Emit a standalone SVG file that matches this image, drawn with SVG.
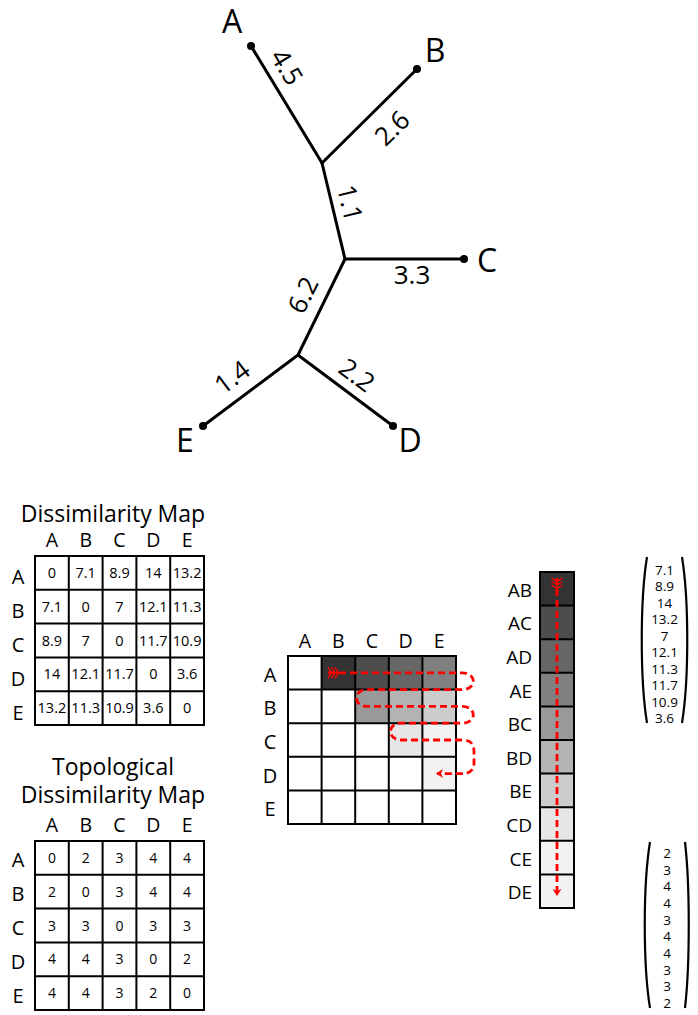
<svg xmlns="http://www.w3.org/2000/svg" width="698" height="1015" viewBox="0 0 698 1015">
<style>
text{font-family:"Open Sans","Liberation Sans",sans-serif;fill:#000}
.leaf{font-size:32px;text-anchor:middle}
.el{font-size:26px;text-anchor:middle}
.title{font-size:23px;text-anchor:middle}
.hd{font-size:19.5px;text-anchor:middle}
.rl{font-size:20px;text-anchor:middle}
.v{font-size:14.5px;text-anchor:middle}
.tv{font-size:14px;text-anchor:middle}
.vl{font-size:19px;text-anchor:end}
.vn{font-size:13.5px;text-anchor:middle}
.edge{stroke:#000;stroke-width:3;fill:none;stroke-linecap:round}
.grid{fill:none;stroke:#000;stroke-width:2}
.red{stroke:#f00;stroke-width:2.8;fill:none;stroke-dasharray:7 4}
.paren{stroke:#000;stroke-width:2.2;fill:none}
</style>
<defs>
<marker id="feather" markerUnits="userSpaceOnUse" markerWidth="20" markerHeight="20" refX="0" refY="0" orient="auto" overflow="visible">
<path d="M0,-5.5 L3.5,0 L0,5.5 M3.5,-5.5 L7,0 L3.5,5.5 M7,-5.5 L10.5,0 L7,5.5 M0,0 H14" stroke="#f00" stroke-width="1.4" fill="none"/>
</marker>
<marker id="head" markerUnits="userSpaceOnUse" markerWidth="20" markerHeight="20" refX="0" refY="0" orient="auto" overflow="visible">
<path d="M1,0 L-6,-4.5 L-4,0 L-6,4.5 Z" fill="#f00"/>
</marker>
</defs>

<g id="tree-connectors">
<path class="edge" d="M251,46 L322,163"/>
<path class="edge" d="M417,69 L322,163"/>
<path class="edge" d="M322,163 L345,259"/>
<path class="edge" d="M345,259 L464,259"/>
<path class="edge" d="M345,259 L298,355"/>
<path class="edge" d="M298,355 L203,426"/>
<path class="edge" d="M298,355 L393,426"/>
<text class="el" transform="translate(287,67) rotate(58.7)" y="9.3">4.5</text>
<text class="el" transform="translate(392,128) rotate(-44.7)" y="9.3">2.6</text>
<text class="el" transform="translate(350,203) rotate(76.5)" y="9.3">1.1</text>
<text class="el" x="412" y="284.3">3.3</text>
<text class="el" transform="translate(303,295) rotate(-63.9)" y="9.3">6.2</text>
<text class="el" transform="translate(232,377) rotate(-36.8)" y="9.3">1.4</text>
<text class="el" transform="translate(357,375) rotate(36.8)" y="9.3">2.2</text>
</g>
<g id="leaf-A"><circle cx="251" cy="46" r="4"/><text class="leaf" x="232" y="33">A</text></g>
<g id="leaf-B"><circle cx="417" cy="69" r="4"/><text class="leaf" x="435" y="62">B</text></g>
<g id="leaf-C"><circle cx="464" cy="259" r="4"/><text class="leaf" x="487" y="272">C</text></g>
<g id="leaf-D"><circle cx="393" cy="426" r="4"/><text class="leaf" x="410" y="452">D</text></g>
<g id="leaf-E"><circle cx="203" cy="426" r="4"/><text class="leaf" x="185" y="452">E</text></g>

<g id="dissimilarity-map">
<text class="title" x="113" y="522">Dissimilarity Map</text>
<text class="hd" x="51.9" y="547">A</text><text class="hd" x="85.7" y="547">B</text><text class="hd" x="119.5" y="547">C</text><text class="hd" x="153.3" y="547">D</text><text class="hd" x="187.1" y="547">E</text>
<text class="rl" x="18" y="584.4">A</text><text class="rl" x="18" y="618.2">B</text><text class="rl" x="18" y="652">C</text><text class="rl" x="18" y="685.8">D</text><text class="rl" x="18" y="719.6">E</text>
<rect x="35" y="556" width="169" height="169" fill="#fff"/>
<path class="grid" d="M35,556 H204 V725 H35 Z M68.8,556 V725 M102.6,556 V725 M136.4,556 V725 M170.2,556 V725 M35,589.8 H204 M35,623.6 H204 M35,657.4 H204 M35,691.2 H204"/>
<text class="v" x="51.9" y="578">0</text><text class="v" x="85.7" y="578">7.1</text><text class="v" x="119.5" y="578">8.9</text><text class="v" x="153.3" y="578">14</text><text class="v" x="187.1" y="578">13.2</text>
<text class="v" x="51.9" y="611.8">7.1</text><text class="v" x="85.7" y="611.8">0</text><text class="v" x="119.5" y="611.8">7</text><text class="v" x="153.3" y="611.8">12.1</text><text class="v" x="187.1" y="611.8">11.3</text>
<text class="v" x="51.9" y="645.6">8.9</text><text class="v" x="85.7" y="645.6">7</text><text class="v" x="119.5" y="645.6">0</text><text class="v" x="153.3" y="645.6">11.7</text><text class="v" x="187.1" y="645.6">10.9</text>
<text class="v" x="51.9" y="679.4">14</text><text class="v" x="85.7" y="679.4">12.1</text><text class="v" x="119.5" y="679.4">11.7</text><text class="v" x="153.3" y="679.4">0</text><text class="v" x="187.1" y="679.4">3.6</text>
<text class="v" x="51.9" y="713.2">13.2</text><text class="v" x="85.7" y="713.2">11.3</text><text class="v" x="119.5" y="713.2">10.9</text><text class="v" x="153.3" y="713.2">3.6</text><text class="v" x="187.1" y="713.2">0</text>
</g>

<g id="topological-map">
<text class="title" x="113" y="775">Topological</text>
<text class="title" x="113" y="803">Dissimilarity Map</text>
<text class="hd" x="51.9" y="832">A</text><text class="hd" x="85.7" y="832">B</text><text class="hd" x="119.5" y="832">C</text><text class="hd" x="153.3" y="832">D</text><text class="hd" x="187.1" y="832">E</text>
<text class="rl" x="18" y="867.4">A</text><text class="rl" x="18" y="901.2">B</text><text class="rl" x="18" y="935">C</text><text class="rl" x="18" y="968.8">D</text><text class="rl" x="18" y="1002.6">E</text>
<rect x="35" y="841" width="169" height="169" fill="#fff"/>
<path class="grid" d="M35,841 H204 V1010 H35 Z M68.8,841 V1010 M102.6,841 V1010 M136.4,841 V1010 M170.2,841 V1010 M35,874.8 H204 M35,908.6 H204 M35,942.4 H204 M35,976.2 H204"/>
<text class="tv" x="51.9" y="862.9">0</text><text class="tv" x="85.7" y="862.9">2</text><text class="tv" x="119.5" y="862.9">3</text><text class="tv" x="153.3" y="862.9">4</text><text class="tv" x="187.1" y="862.9">4</text>
<text class="tv" x="51.9" y="896.7">2</text><text class="tv" x="85.7" y="896.7">0</text><text class="tv" x="119.5" y="896.7">3</text><text class="tv" x="153.3" y="896.7">4</text><text class="tv" x="187.1" y="896.7">4</text>
<text class="tv" x="51.9" y="930.5">3</text><text class="tv" x="85.7" y="930.5">3</text><text class="tv" x="119.5" y="930.5">0</text><text class="tv" x="153.3" y="930.5">3</text><text class="tv" x="187.1" y="930.5">3</text>
<text class="tv" x="51.9" y="964.3">4</text><text class="tv" x="85.7" y="964.3">4</text><text class="tv" x="119.5" y="964.3">3</text><text class="tv" x="153.3" y="964.3">0</text><text class="tv" x="187.1" y="964.3">2</text>
<text class="tv" x="51.9" y="998.1">4</text><text class="tv" x="85.7" y="998.1">4</text><text class="tv" x="119.5" y="998.1">3</text><text class="tv" x="153.3" y="998.1">2</text><text class="tv" x="187.1" y="998.1">0</text>
</g>

<g id="upper-triangle-matrix">
<text class="hd" x="304.8" y="648">A</text><text class="hd" x="338.4" y="648">B</text><text class="hd" x="372" y="648">C</text><text class="hd" x="405.6" y="648">D</text><text class="hd" x="439.2" y="648">E</text>
<text class="rl" x="270" y="681.8">A</text><text class="rl" x="270" y="715.4">B</text><text class="rl" x="270" y="749">C</text><text class="rl" x="270" y="782.6">D</text><text class="rl" x="270" y="816.2">E</text>
<rect x="288" y="656" width="168" height="168" fill="#fff"/>
<rect x="321.6" y="656" width="33.6" height="33.6" fill="#333"/>
<rect x="355.2" y="656" width="33.6" height="33.6" fill="#4d4d4d"/>
<rect x="388.8" y="656" width="33.6" height="33.6" fill="#666"/>
<rect x="422.4" y="656" width="33.6" height="33.6" fill="#808080"/>
<rect x="355.2" y="689.6" width="33.6" height="33.6" fill="#999"/>
<rect x="388.8" y="689.6" width="33.6" height="33.6" fill="#b3b3b3"/>
<rect x="422.4" y="689.6" width="33.6" height="33.6" fill="#ccc"/>
<rect x="388.8" y="723.2" width="33.6" height="33.6" fill="#e6e6e6"/>
<rect x="422.4" y="723.2" width="33.6" height="33.6" fill="#f2f2f2"/>
<rect x="422.4" y="756.8" width="33.6" height="33.6" fill="#f2f2f2"/>
<path class="grid" d="M288,656 H456 V824 H288 Z M321.6,656 V824 M355.2,656 V824 M388.8,656 V824 M422.4,656 V824 M288,689.6 H456 M288,723.2 H456 M288,756.8 H456 M288,790.4 H456"/>
</g>

<g id="vector-column">
<rect x="540" y="572" width="34" height="33.6" fill="#333"/>
<rect x="540" y="605.6" width="34" height="33.6" fill="#4d4d4d"/>
<rect x="540" y="639.2" width="34" height="33.6" fill="#666"/>
<rect x="540" y="672.8" width="34" height="33.6" fill="#808080"/>
<rect x="540" y="706.4" width="34" height="33.6" fill="#999"/>
<rect x="540" y="740" width="34" height="33.6" fill="#b3b3b3"/>
<rect x="540" y="773.6" width="34" height="33.6" fill="#ccc"/>
<rect x="540" y="807.2" width="34" height="33.6" fill="#e6e6e6"/>
<rect x="540" y="840.8" width="34" height="33.6" fill="#f2f2f2"/>
<rect x="540" y="874.4" width="34" height="33.6" fill="#f2f2f2"/>
<path class="grid" d="M540,572 H574 V908 H540 Z M540,605.6 H574 M540,639.2 H574 M540,672.8 H574 M540,706.4 H574 M540,740 H574 M540,773.6 H574 M540,807.2 H574 M540,840.8 H574 M540,874.4 H574"/>
<text class="vl" x="532" y="596.8">AB</text>
<text class="vl" x="532" y="630.4">AC</text>
<text class="vl" x="532" y="664">AD</text>
<text class="vl" x="532" y="697.6">AE</text>
<text class="vl" x="532" y="731.2">BC</text>
<text class="vl" x="532" y="764.8">BD</text>
<text class="vl" x="532" y="798.4">BE</text>
<text class="vl" x="532" y="832">CD</text>
<text class="vl" x="532" y="865.6">CE</text>
<text class="vl" x="532" y="899.2">DE</text>
</g>

<g id="distance-vector">
<path class="paren" d="M647,557 C640,600 640,680 647,723"/>
<path class="paren" d="M682,557 C689,600 689,680 682,723"/>
<text class="vn" x="664.5" y="574.5">7.1</text>
<text class="vn" x="664.5" y="591">8.9</text>
<text class="vn" x="664.5" y="607.5">14</text>
<text class="vn" x="664.5" y="624">13.2</text>
<text class="vn" x="664.5" y="640.5">7</text>
<text class="vn" x="664.5" y="657">12.1</text>
<text class="vn" x="664.5" y="673.5">11.3</text>
<text class="vn" x="664.5" y="690">11.7</text>
<text class="vn" x="664.5" y="706.5">10.9</text>
<text class="vn" x="664.5" y="723">3.6</text>
</g>

<g id="topological-vector">
<path class="paren" d="M650,842 C643,885 643,965 650,1008"/>
<path class="paren" d="M685,842 C690,885 690,965 685,1008"/>
<text class="vn" x="667" y="858">2</text>
<text class="vn" x="667" y="874.7">3</text>
<text class="vn" x="667" y="891.4">4</text>
<text class="vn" x="667" y="908">4</text>
<text class="vn" x="667" y="924.7">3</text>
<text class="vn" x="667" y="941.4">4</text>
<text class="vn" x="667" y="958">4</text>
<text class="vn" x="667" y="974.7">3</text>
<text class="vn" x="667" y="991.4">3</text>
<text class="vn" x="667" y="1008">2</text>
</g>

<g id="connectors">
<path class="red" marker-start="url(#feather)" marker-end="url(#head)" d="M328,672.8 H462 C477,672.8 477,689.6 462,689.6 H367 C353,689.6 353,706.4 367,706.4 H462 C477,706.4 477,723.2 462,723.2 H401 C387,723.2 387,740 401,740 H462 C472,740 474,745 474,752 V763 C474,770 470,773.6 462,773.6 H437"/>
<path class="red" marker-start="url(#feather)" marker-end="url(#head)" d="M557,578 V895"/>
</g>
</svg>
